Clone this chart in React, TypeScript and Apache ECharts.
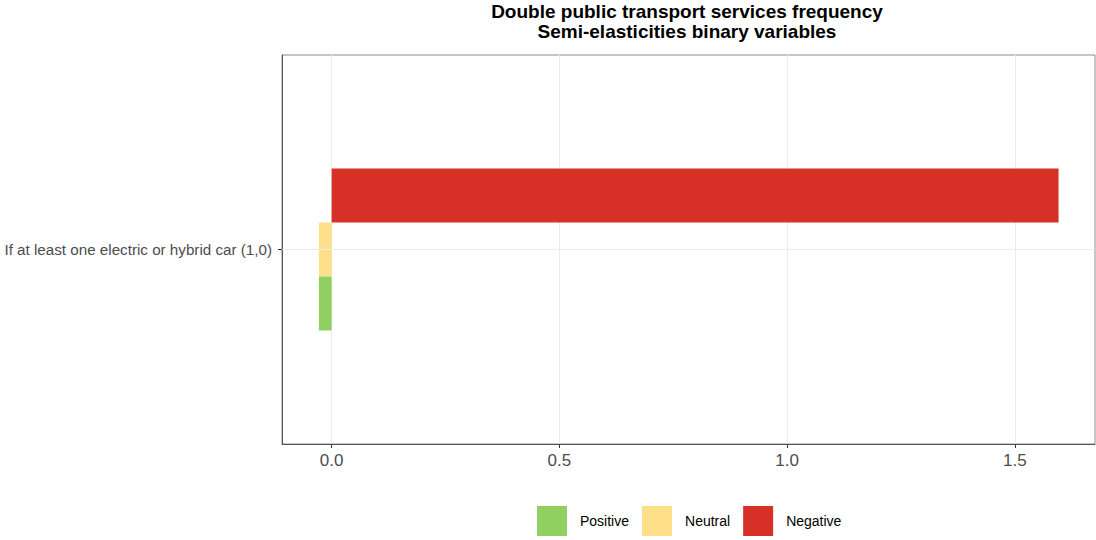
import React, { useEffect, useRef } from 'react';
import * as echarts from 'echarts';

const categories = ['If at least one electric or hybrid car (1,0)'];
const positiveValues = [-0.028];
const neutralValues = [-0.028];
const negativeValues = [1.596];
const xTicks = [0, 0.5, 1, 1.5];
const legendNames = ['Positive', 'Neutral', 'Negative'];
const seriesColors = ['#91cf60', '#fedf8a', '#d73027'];
const titleLines = ['Double public transport services frequency', 'Semi-elasticities binary variables'];

const FONT = '"Liberation Sans", Arial, sans-serif';

export default function App() {
  const ref = useRef<HTMLDivElement>(null);
  useEffect(() => {
    document.body.style.margin = '0';
    const chart = echarts.init(ref.current!, null, { renderer: 'svg' });
    const values = [positiveValues, neutralValues, negativeValues];
    // ECharts places horizontal bars top-down in series order, so draw Negative first
    const order = [2, 1, 0];
    chart.setOption({
      animation: false,
      backgroundColor: '#ffffff',
      title: {
        text: titleLines.join('\n'),
        left: 687,
        top: 1,
        padding: 0,
        textAlign: 'center',
        textStyle: { fontFamily: FONT, fontSize: 19, fontWeight: 'bold', color: '#000', lineHeight: 20 },
      },
      legend: {
        data: legendNames,
        left: 537,
        top: 506,
        padding: 0,
        itemWidth: 30,
        itemHeight: 30,
        itemGap: 13,
        icon: 'rect',
        textStyle: { fontFamily: FONT, fontSize: 14, color: '#000', padding: [0, 0, 0, 8] },
      },
      grid: {
        left: 282, right: 1, top: 55, bottom: 96,
        show: true, borderColor: '#8c8c8c', borderWidth: 1,
      },
      xAxis: {
        type: 'value',
        min: -0.109,
        max: 1.676,
        axisLine: { show: true, onZero: false, lineStyle: { color: '#555', width: 1 } },
        axisTick: { show: true, customValues: xTicks, length: 4, lineStyle: { color: '#333' } },
        axisLabel: {
          customValues: xTicks,
          formatter: (v: number) => v.toFixed(1),
          fontFamily: FONT, fontSize: 17, color: '#4d4d4d', margin: 8,
        },
        splitLine: { show: true, lineStyle: { color: '#ebebeb', width: 1 } },
      },
      yAxis: {
        type: 'category',
        data: categories,
        axisLine: { show: true, onZero: false, lineStyle: { color: '#555', width: 1 } },
        axisTick: { show: true, alignWithLabel: true, length: 4, lineStyle: { color: '#333' } },
        axisLabel: { fontFamily: FONT, fontSize: 15.2, color: '#4d4d4d', margin: 10 },
        splitLine: { show: false },
      },
      series: [
        {
          type: 'line', data: [], z: 0, silent: true,
          markLine: {
            silent: true, symbol: 'none', label: { show: false },
            lineStyle: { color: '#ebebeb', width: 1, type: 'solid' },
            data: [{ yAxis: categories[0] }],
          },
        },
        ...order.map((i) => ({
          name: legendNames[i],
          type: 'bar',
          data: values[i],
          barWidth: 54,
          barGap: '0%',
          itemStyle: { color: seriesColors[i] },
        })),
      ],
    });
    return () => chart.dispose();
  }, []);
  return <div ref={ref} style={{ width: 1096, height: 540 }} />;
}
